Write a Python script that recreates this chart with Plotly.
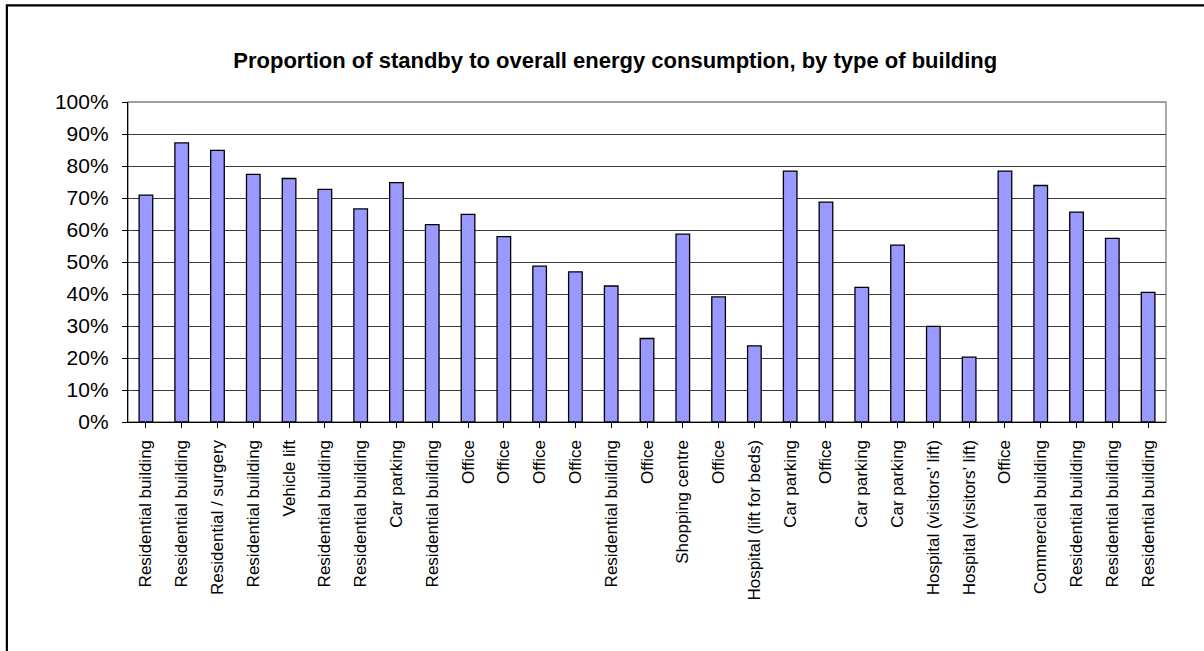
import plotly.graph_objects as go

# Building types (one bar each) and standby share of total consumption
buildings = [
    "Residential building", "Residential building", "Residential / surgery",
    "Residential building", "Vehicle lift", "Residential building",
    "Residential building", "Car parking", "Residential building",
    "Office", "Office", "Office", "Office", "Residential building",
    "Office", "Shopping centre", "Office", "Hospital (lift for beds)",
    "Car parking", "Office", "Car parking", "Car parking",
    "Hospital (visitors\u2019 lift)", "Hospital (visitors\u2019 lift)",
    "Office", "Commercial building", "Residential building",
    "Residential building", "Residential building",
]
standby_share = [
    0.709, 0.872, 0.849, 0.774, 0.761, 0.727, 0.666, 0.748, 0.617,
    0.649, 0.579, 0.487, 0.469, 0.425, 0.261, 0.587, 0.391, 0.238,
    0.784, 0.687, 0.421, 0.553, 0.299, 0.203, 0.784, 0.739, 0.656,
    0.574, 0.405,
]
y_ticks = [i / 10 for i in range(11)]

# Categories are indexed so repeated names still get their own bar
positions = list(range(len(buildings)))

fig = go.Figure(
    go.Bar(
        x=positions,
        y=standby_share,
        marker=dict(color="#9999FF", line=dict(color="#000000", width=1.3)),
        width=0.38,
        hoverinfo="y",
    )
)

fig.update_layout(
    width=1204,
    height=651,
    margin=dict(l=128, r=38, t=102, b=229),
    paper_bgcolor="white",
    plot_bgcolor="white",
    showlegend=False,
    font=dict(family="Liberation Sans, Arial, sans-serif", color="black"),
    title=dict(
        text="<b>Proportion of standby to overall energy consumption, by type of building</b>",
        x=0.511,
        xanchor="center",
        y=1 - 60 / 651,
        yanchor="middle",
        font=dict(size=22, color="black"),
    ),
    xaxis=dict(
        tickmode="array",
        tickvals=positions,
        ticktext=buildings,
        tickangle=-90,
        range=[-0.5, len(buildings) - 0.5],
        tickson="boundaries",
        ticks="outside",
        ticklen=5,
        tickcolor="black",
        tickfont=dict(size=17),
        showline=True,
        linecolor="black",
        linewidth=1.3,
        showgrid=False,
        zeroline=False,
        ticklabelstandoff=5,
    ),
    yaxis=dict(
        range=[0, 1],
        tickvals=y_ticks,
        tickformat=".0%",
        ticks="outside",
        ticklen=5,
        tickcolor="black",
        tickfont=dict(size=21),
        showline=True,
        linecolor="black",
        linewidth=1.3,
        showgrid=True,
        gridcolor="#3a3a3a",
        gridwidth=1,
        zeroline=False,
        ticklabelstandoff=9,
    ),
    shapes=[
        # grey border of the plotting area
        dict(type="rect", xref="paper", yref="paper", x0=0, y0=0, x1=1, y1=1,
             line=dict(color="#808080", width=1.3), layer="below"),
        # outer frame around the whole chart
        dict(type="rect", xref="paper", yref="paper",
             x0=-0.1167, y0=-1.0, x1=1.2, y1=1.302,
             line=dict(color="black", width=2.2)),
    ],
)

fig.write_html("out.html")
